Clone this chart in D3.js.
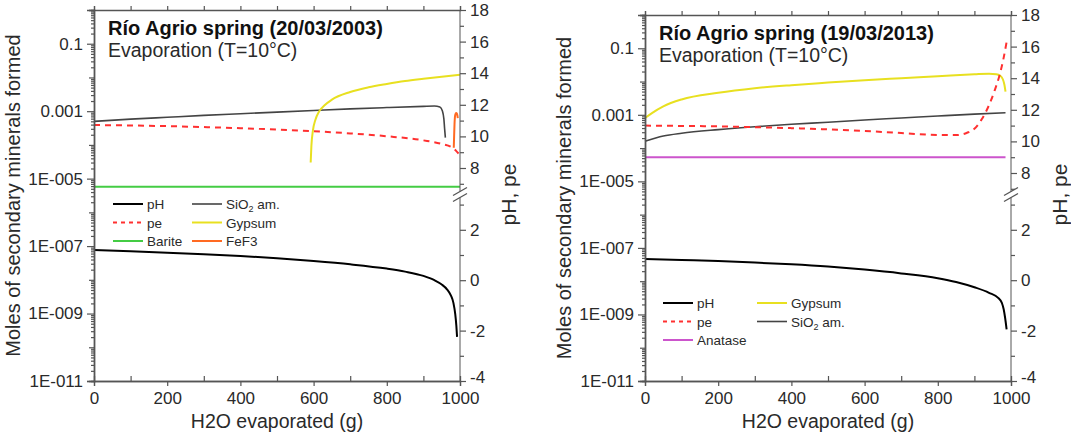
<!DOCTYPE html>
<html><head><meta charset="utf-8">
<script src="https://cdn.jsdelivr.net/npm/d3@7"></script>
<style>
body{margin:0;background:#fff;}
svg{display:block;font-family:'Liberation Sans',Arial,sans-serif;}
</style></head><body>
<svg id="c" width="1071" height="440"></svg>
<script>
// ---------------- DATA ----------------
const xTicks = [0, 200, 400, 600, 800, 1000];
const xMinorTicks = [100, 300, 500, 700, 900];
const logTickValues = [1e-11, 1e-9, 1e-7, 1e-5, 1e-3, 1e-1];
const logTickLabels = ["1E-011", "1E-009", "1E-007", "1E-005", "0.001", "0.1"];
const rightUpperTicks = [8, 10, 12, 14, 16, 18];
const rightLowerTicks = [-4, -2, 0, 2];
const rightMinorTicks = [-3, -1, 1, 3, 7, 9, 11, 13, 15, 17];

// Panel 1 : 20/03/2003  [H2O evaporated (g), value]
const pH2003 = [[0,1.2],[100,1.15],[200,1.09],[300,1.03],[400,0.96],[500,0.87],[600,0.76],[700,0.63],[800,0.46],[850,0.34],[900,0.17],[930,0.0],[950,-0.17],[965,-0.37],[975,-0.6],[982,-0.9],[987,-1.35],[990,-1.8],[992,-2.25]];
const pe2003 = [[0,10.72],[100,10.69],[200,10.65],[300,10.59],[400,10.52],[500,10.43],[600,10.33],[700,10.19],[800,10.01],[900,9.75],[950,9.52],[980,9.27],[990,9.07],[996,8.92]];
const barite2003 = [[0,5.7e-6],[1000,5.7e-6]];
const sio2_2003 = [[0,5e-4],[100,5.8e-4],[200,6.6e-4],[300,7.5e-4],[400,8.4e-4],[500,9.4e-4],[600,1.05e-3],[700,1.17e-3],[800,1.28e-3],[900,1.39e-3],[930,1.42e-3],[945,1.34e-3],[952,1.02e-3],[956,5.8e-4],[958,3e-4],[960,1.65e-4]];
const gypsum2003 = [[592,3e-5],[594,9.5e-5],[598,2.6e-4],[605,5.6e-4],[615,9.8e-4],[630,1.5e-3],[650,2.2e-3],[700,3.7e-3],[750,5.1e-3],[800,6.4e-3],[850,7.8e-3],[900,9.1e-3],[950,1.05e-2],[1000,1.2e-2]];
const fef3_2003 = [[983,8.2e-5],[984,1.9e-4],[985,4.1e-4],[986,6.4e-4],[987.5,8.1e-4],[989.5,8.8e-4],[991.5,8.5e-4],[993,7.3e-4],[994,6.2e-4]];

// Panel 2 : 19/03/2013
const pH2013 = [[0,0.84],[100,0.8],[200,0.76],[300,0.7],[400,0.63],[500,0.54],[600,0.42],[700,0.27],[800,0.08],[850,-0.07],[900,-0.28],[940,-0.5],[965,-0.7],[975,-0.9],[980,-1.15],[984,-1.5],[988,-1.95]];
const pe2013 = [[0,11.0],[100,10.98],[200,10.95],[300,10.9],[400,10.84],[500,10.76],[600,10.66],[700,10.53],[780,10.42],[850,10.4],[880,10.55],[900,10.8],[920,11.4],[940,12.3],[955,13.2],[970,14.3],[980,15.3],[988,16.3]];
const anatase2013 = [[0,5.3e-5],[985,5.3e-5]];
const gypsum2013 = [[0,8e-4],[20,1.15e-3],[50,1.8e-3],[100,2.9e-3],[200,4.6e-3],[300,6.3e-3],[400,7.8e-3],[500,9.3e-3],[600,1.1e-2],[700,1.26e-2],[800,1.44e-2],[900,1.65e-2],[940,1.72e-2],[960,1.66e-2],[970,1.52e-2],[978,1.15e-2],[982,8e-3],[985,5e-3]];
const sio2_2013 = [[0,1.6e-4],[50,2.3e-4],[100,2.8e-4],[200,3.6e-4],[300,4.4e-4],[400,5.2e-4],[500,6.0e-4],[600,7.0e-4],[700,8.0e-4],[800,9.2e-4],[900,1.05e-3],[985,1.15e-3]];

// ---------------- DRAW ----------------
const svg = d3.select("#c");
const FONT = "'Liberation Sans',Arial,sans-serif";
const AX = "#555";
const TXT = "#2a2a2a";

const panels = [
  {left:94, right:460, top:10, bottom:381, title:"Río Agrio spring (20/03/2003)",
   series:[
     {name:"pH", data:pH2003, axis:"r", color:"#000", w:2},
     {name:"pe", data:pe2003, axis:"r", color:"#ff3030", w:2, dash:"6,5"},
     {name:"Barite", data:barite2003, axis:"l", color:"#44cc44", w:2},
     {name:"SiO2", data:sio2_2003, axis:"l", color:"#444", w:1.6},
     {name:"Gypsum", data:gypsum2003, axis:"l", color:"#e8e020", w:2},
     {name:"FeF3", data:fef3_2003, axis:"l", color:"#ff6a22", w:2}
   ],
   legend:[
     {col:0,row:0,label:"pH",color:"#000",w:2},
     {col:0,row:1,label:"pe",color:"#ff3030",w:2,dash:"4,4"},
     {col:0,row:2,label:"Barite",color:"#44cc44",w:2},
     {col:1,row:0,label:"SiO|2| am.",color:"#444",w:1.6},
     {col:1,row:1,label:"Gypsum",color:"#e8e020",w:2},
     {col:1,row:2,label:"FeF3",color:"#ff6a22",w:2}
   ],
   legendPos:{x:113,y:204,colW:79,rowH:18.5}
  },
  {left:645, right:1011, top:15, bottom:381, title:"Río Agrio spring (19/03/2013)",
   series:[
     {name:"Anatase", data:anatase2013, axis:"l", color:"#cc55cc", w:2},
     {name:"SiO2", data:sio2_2013, axis:"l", color:"#444", w:1.6},
     {name:"Gypsum", data:gypsum2013, axis:"l", color:"#e8e020", w:2},
     {name:"pe", data:pe2013, axis:"r", color:"#ff3030", w:2, dash:"6,5"},
     {name:"pH", data:pH2013, axis:"r", color:"#000", w:2}
   ],
   legend:[
     {col:0,row:0,label:"pH",color:"#000",w:2},
     {col:0,row:1,label:"pe",color:"#ff3030",w:2,dash:"4,4"},
     {col:0,row:2,label:"Anatase",color:"#cc55cc",w:2},
     {col:1,row:0,label:"Gypsum",color:"#e8e020",w:2},
     {col:1,row:1,label:"SiO|2| am.",color:"#444",w:1.6}
   ],
   legendPos:{x:663,y:303,colW:94,rowH:18.5}
  }
];

panels.forEach(p => {
  const g = svg.append("g");
  const x = d3.scaleLinear().domain([0,1000]).range([p.left,p.right]);
  const yl = d3.scaleLog().domain([1e-11,1]).range([p.bottom,p.top]);
  const brk = p.bottom - 7.4*25.2;
  const u0 = 18 - (brk - p.top)/15.8;
  const yr = d3.scaleLinear().domain([-4,3.4,u0,18]).range([p.bottom,brk,brk,p.top]);

  // series
  p.series.forEach(s => {
    const ys = s.axis === "l" ? yl : yr;
    const line = d3.line().x(d=>x(d[0])).y(d=>ys(d[1])).curve(d3.curveMonotoneX);
    g.append("path").datum(s.data).attr("d", line)
      .attr("fill","none").attr("stroke",s.color).attr("stroke-width",s.w)
      .attr("stroke-dasharray", s.dash || null).attr("stroke-linejoin","round");
  });

  // bottom axis
  const xb = g.append("g").attr("transform",`translate(0,${p.bottom})`)
    .call(d3.axisBottom(x).tickValues(xTicks).tickSize(5).tickPadding(6).tickFormat(d3.format("d")));
  g.append("g").attr("transform",`translate(0,${p.bottom})`)
    .call(d3.axisBottom(x).tickValues(xMinorTicks).tickSize(-5).tickFormat(""));
  // top axis
  g.append("g").attr("transform",`translate(0,${p.top})`)
    .call(d3.axisTop(x).tickValues(xTicks.concat(xMinorTicks)).tickSize(4).tickFormat(""));

  // left log axis
  g.append("g").attr("transform",`translate(${p.left},0)`)
    .call(d3.axisLeft(yl).tickValues(logTickValues).tickSize(7).tickPadding(4)
      .tickFormat((d,i)=>logTickLabels[i]));
  const minor = [];
  for (let e=-11; e<0; e++) for (let m=2; m<=9; m++) minor.push(m*Math.pow(10,e));
  const decades = d3.range(-10,1,2).map(e=>Math.pow(10,e));
  g.append("g").attr("transform",`translate(${p.left},0)`)
    .call(d3.axisLeft(yl).tickValues(minor).tickSize(3).tickFormat(""));
  g.append("g").attr("transform",`translate(${p.left},0)`)
    .call(d3.axisLeft(yl).tickValues(decades).tickSize(5).tickFormat(""));

  // right broken axis
  const ra = g.append("g").attr("transform",`translate(${p.right},0)`);
  ra.call(d3.axisRight(yr).tickValues(rightUpperTicks.concat(rightLowerTicks)).tickSize(6).tickPadding(4).tickFormat(d=>d));
  ra.select(".domain").remove();
  ra.selectAll(".tick").filter(d => d === -4).select("text").attr("dy","0.1em");
  g.append("g").attr("transform",`translate(${p.right},0)`)
    .call(d3.axisRight(yr).tickValues(rightMinorTicks).tickSize(4).tickFormat(""))
    .select(".domain").remove();
  g.append("line").attr("x1",p.right).attr("x2",p.right).attr("y1",p.top).attr("y2",brk-3).attr("stroke",AX);
  g.append("line").attr("x1",p.right).attr("x2",p.right).attr("y1",brk+3).attr("y2",p.bottom).attr("stroke",AX);
  [-3,3].forEach(o => g.append("line").attr("x1",p.right-7).attr("x2",p.right+7)
    .attr("y1",brk+o+4).attr("y2",brk+o-4).attr("stroke",AX).attr("stroke-width",1.3));

  // style axes
  g.selectAll(".domain").attr("stroke",AX).attr("stroke-width",1.3);
  g.selectAll(".tick line").attr("stroke",AX).attr("stroke-width",1.2);
  g.selectAll(".tick text").attr("font-size",17).attr("font-family",FONT).attr("fill",TXT);

  // titles
  g.append("text").attr("x",p.left+14).attr("y",p.top+25).attr("font-size",20).attr("font-weight","bold")
    .attr("fill","#111").text(p.title);
  g.append("text").attr("x",p.left+14).attr("y",p.top+47).attr("font-size",19.5).attr("fill",TXT)
    .text("Evaporation (T=10°C)");
  g.append("text").attr("x",(p.left+p.right)/2).attr("y",p.bottom+47).attr("text-anchor","middle")
    .attr("font-size",19.5).attr("fill",TXT).text("H2O evaporated (g)");
  g.append("text").attr("transform",`translate(${p.left-74},${(p.top+p.bottom)/2}) rotate(-90)`)
    .attr("text-anchor","middle").attr("font-size",20).attr("fill",TXT)
    .text("Moles of secondary minerals formed");
  g.append("text").attr("transform",`translate(${p.right+56},${brk}) rotate(-90)`)
    .attr("text-anchor","middle").attr("font-size",21).attr("fill",TXT).text("pH, pe");

  // legend
  const L = p.legendPos;
  p.legend.forEach(e => {
    const lx = L.x + e.col*L.colW, ly = L.y + e.row*L.rowH;
    g.append("line").attr("x1",lx).attr("x2",lx+30).attr("y1",ly).attr("y2",ly)
      .attr("stroke",e.color).attr("stroke-width",e.w).attr("stroke-dasharray",e.dash||null);
    const t = g.append("text").attr("x",lx+34).attr("y",ly+5).attr("font-size",13.5).attr("fill",TXT);
    const parts = e.label.split("|");
    parts.forEach((s,i) => {
      const ts = t.append("tspan").text(s);
      if (i===1) ts.attr("font-size",9).attr("dy",3);
      if (i===2) ts.attr("dy",-3);
    });
  });
});
</script></body></html>
